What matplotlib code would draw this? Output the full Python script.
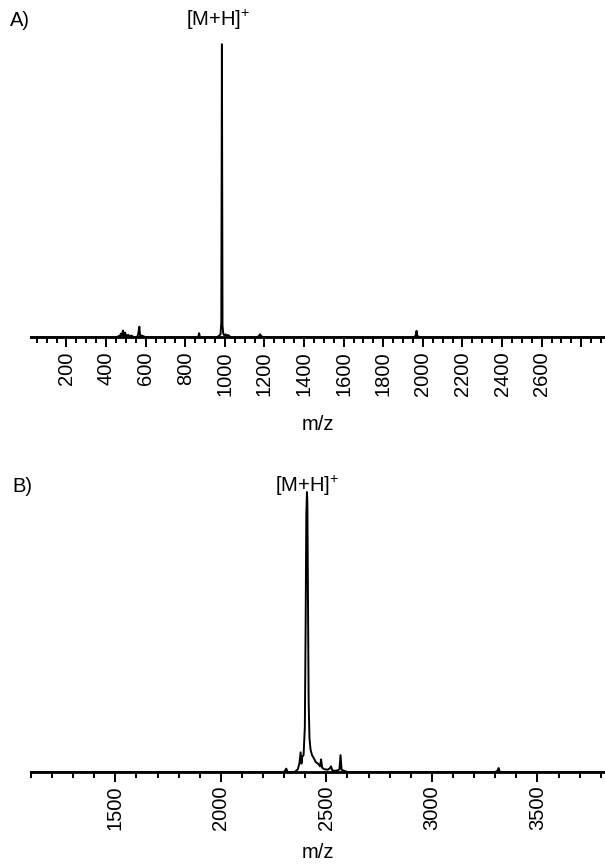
import matplotlib
matplotlib.use("Agg")
import matplotlib.pyplot as plt
from matplotlib.ticker import MultipleLocator

plt.rcParams['font.family'] = ['Liberation Sans', 'DejaVu Sans']
plt.rcParams['mathtext.fontset'] = 'custom'
plt.rcParams['mathtext.rm'] = 'Liberation Sans'

# Panel A spectrum (m/z, relative intensity)
mz_a = [20, 455, 462, 468, 474, 480, 485, 490, 496, 502, 512, 520, 528, 540, 556, 562, 568, 572,
        580, 600, 860, 866, 870, 874, 960, 972, 978, 982, 985, 988, 992, 998, 1004, 1010, 1016,
        1030, 1160, 1172, 1178, 1184, 1200, 1955, 1963, 1968, 1973, 1990, 2920]
int_a = [0, 0, 0.004, 0, 0.012, 0.006, 0.023, 0.004, 0.016, 0.004, 0.008, 0.003, 0.006, 0, 0,
         0.01, 0.036, 0.004, 0.006, 0, 0, 0.003, 0.014, 0, 0, 0.006, 0.01, 0.05, 1.0, 0.04, 0.012,
         0.006, 0.01, 0.004, 0.008, 0, 0, 0.004, 0.01, 0.003, 0, 0, 0.005, 0.022, 0.003, 0, 0]

# Panel B spectrum
mz_b = [1100, 2300, 2310, 2316, 2350, 2365, 2372, 2378, 2382, 2386, 2392, 2398, 2402, 2405,
        2408, 2410, 2413, 2416, 2420, 2425, 2432, 2440, 2450, 2460, 2470, 2475, 2480, 2490,
        2505, 2515, 2522, 2528, 2540, 2555, 2562, 2567, 2572, 2585, 2600, 3300, 3310, 3316,
        3322, 3820]
int_b = [0, 0, 0.012, 0, 0, 0.01, 0.03, 0.07, 0.03, 0.055, 0.06, 0.16, 0.55, 0.92, 1.0, 0.96,
         0.6, 0.25, 0.12, 0.08, 0.06, 0.05, 0.035, 0.03, 0.02, 0.045, 0.015, 0.01, 0.008, 0.012,
         0.02, 0.006, 0.004, 0.006, 0.01, 0.06, 0.008, 0.004, 0, 0, 0.004, 0.014, 0, 0]

ticks_a = list(range(200, 2801, 200))
labels_a = [str(t) for t in ticks_a[:-1]] + ['']
ticks_b = [1500, 2000, 2500, 3000, 3500]

fs = 14.5

fig = plt.figure(figsize=(6.05, 8.67), dpi=100)
ax1 = fig.add_axes([0.051, 0.611, 0.949, 0.338])
ax2 = fig.add_axes([0.051, 0.1096, 0.949, 0.3229])

for ax in (ax1, ax2):
    for s in ('top', 'right', 'left'):
        ax.spines[s].set_visible(False)
    ax.spines['bottom'].set_linewidth(2.0)
    ax.set_yticks([])
    ax.set_ylim(0, 1)
    ax.tick_params(axis='x', which='major', direction='out', length=7, width=1.4,
                   labelrotation=90, labelsize=fs, pad=3)
    ax.tick_params(axis='x', which='minor', direction='out', length=4, width=1.4)

ax1.set_xlabel('m/z', fontsize=fs, labelpad=14)
ax2.set_xlabel('m/z', fontsize=fs, labelpad=9)

ax1.plot(mz_a, int_a, color='black', lw=1.4, clip_on=False)
ax1.set_xlim(20, 2920)
ax1.set_xticks(ticks_a)
ax1.set_xticklabels(labels_a)
ax1.xaxis.set_minor_locator(MultipleLocator(50))

ax2.plot(mz_b, int_b, color='black', lw=1.4, clip_on=False)
ax2.set_xlim(1100, 3820)
ax2.set_xticks(ticks_b)
ax2.xaxis.set_minor_locator(MultipleLocator(100))

fig.text(10 / 605, 1 - 20 / 867, 'A)', fontsize=fs, va='center', ha='left')
fig.text(218 / 605, 1 - 20 / 867, '[M+H]$^{+}$', fontsize=fs, va='center', ha='center')
fig.text(12 / 605, 1 - 486 / 867, 'B)', fontsize=fs, va='center', ha='left')
fig.text(307 / 605, 1 - 486 / 867, '[M+H]$^{+}$', fontsize=fs, va='center', ha='center')

fig.savefig('out.png', dpi=100)
